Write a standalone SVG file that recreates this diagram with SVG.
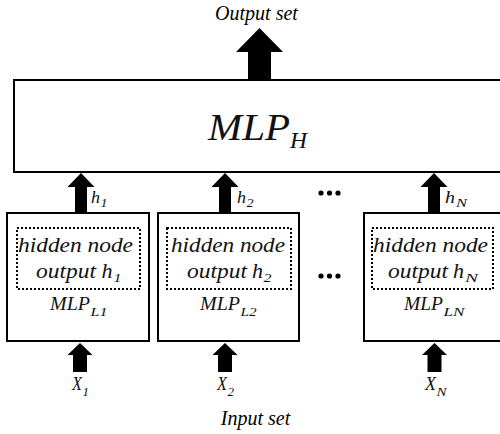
<svg xmlns="http://www.w3.org/2000/svg" width="500" height="434" viewBox="0 0 500 434">
  <defs>
    <style>
      .box { fill: #ffffff; stroke: #000000; stroke-width: 2; }
      .inner { fill: none; stroke: #000000; stroke-width: 2; stroke-dasharray: 2 2; }
      .arrow { fill: #000000; stroke: none; }
      .cap { font-family: "Liberation Serif", "Times New Roman", serif; font-style: italic; font-size: 20px; fill: #000000; }
      .math { font-family: "Liberation Serif", "Times New Roman", serif; font-style: italic; fill: #111111; }
      .body { font-size: 20px; }
      .sub { font-size: 13px; }
      .dot { fill: #000000; }
    </style>
    <!-- block arrows pointing up, tip at origin -->
    <path id="up-small" d="M0,0 L13.5,14 L6,14 L6,40 L-6,40 L-6,14 L-13.5,14 Z"/>
    <path id="up-in" d="M0,0 L12.5,12 L7,12 L7,29 L-7,29 L-7,12 L-12.5,12 Z"/>
  </defs>

  <!-- captions -->
  <text class="cap" x="256.5" y="20" text-anchor="middle">Output set</text>
  <text class="cap" x="255.5" y="425" text-anchor="middle">Input set</text>

  <!-- top network -->
  <g id="mlp-h">
    <rect class="box" x="14" y="80" width="500" height="92"/>
    <text class="math" x="208" y="140" font-size="38" textLength="82" lengthAdjust="spacingAndGlyphs">MLP</text>
    <text class="math" x="290" y="148" font-size="24" textLength="17" lengthAdjust="spacingAndGlyphs">H</text>
  </g>

  <!-- local networks -->
  <g id="mlp-l1">
    <rect class="box" x="7" y="213" width="142" height="128"/>
    <rect class="inner" x="17" y="228" width="123" height="61"/>
    <text class="math body" x="18" y="252" textLength="115" lengthAdjust="spacingAndGlyphs">hidden node</text>
    <text class="math body" x="36" y="278" textLength="60" lengthAdjust="spacingAndGlyphs">output</text>
    <text class="math body" x="101.5" y="278" textLength="11" lengthAdjust="spacingAndGlyphs">h</text>
    <text class="math sub" x="113.5" y="282" textLength="8" lengthAdjust="spacingAndGlyphs">1</text>
    <text class="math" x="50" y="310" font-size="18" textLength="40" lengthAdjust="spacingAndGlyphs">MLP</text>
    <text class="math sub" x="90.5" y="316" textLength="17" lengthAdjust="spacingAndGlyphs">L1</text>
  </g>
  <g id="mlp-l2">
    <rect class="box" x="158" y="213" width="141" height="128"/>
    <rect class="inner" x="167" y="228" width="124" height="61"/>
    <text class="math body" x="171" y="252" textLength="114" lengthAdjust="spacingAndGlyphs">hidden node</text>
    <text class="math body" x="187" y="278" textLength="60" lengthAdjust="spacingAndGlyphs">output</text>
    <text class="math body" x="252" y="278" textLength="11" lengthAdjust="spacingAndGlyphs">h</text>
    <text class="math sub" x="263.5" y="282" textLength="8" lengthAdjust="spacingAndGlyphs">2</text>
    <text class="math" x="200" y="310" font-size="18" textLength="40" lengthAdjust="spacingAndGlyphs">MLP</text>
    <text class="math sub" x="240.5" y="316" textLength="16" lengthAdjust="spacingAndGlyphs">L2</text>
  </g>
  <g id="mlp-ln">
    <rect class="box" x="364" y="213" width="150" height="128"/>
    <rect class="inner" x="372" y="228" width="121" height="61"/>
    <text class="math body" x="373" y="252" textLength="115" lengthAdjust="spacingAndGlyphs">hidden node</text>
    <text class="math body" x="388" y="278" textLength="60" lengthAdjust="spacingAndGlyphs">output</text>
    <text class="math body" x="453" y="278" textLength="11" lengthAdjust="spacingAndGlyphs">h</text>
    <text class="math sub" x="465" y="282" textLength="13" lengthAdjust="spacingAndGlyphs">N</text>
    <text class="math" x="404" y="310" font-size="18" textLength="39" lengthAdjust="spacingAndGlyphs">MLP</text>
    <text class="math sub" x="443.5" y="316" textLength="21" lengthAdjust="spacingAndGlyphs">LN</text>
  </g>

  <!-- ellipses -->
  <g id="ellipses">
    <circle class="dot" cx="321" cy="193" r="2.6"/>
    <circle class="dot" cx="329.5" cy="193" r="2.6"/>
    <circle class="dot" cx="338" cy="193" r="2.6"/>
    <circle class="dot" cx="321" cy="276" r="2.6"/>
    <circle class="dot" cx="329.5" cy="276" r="2.6"/>
    <circle class="dot" cx="338" cy="276" r="2.6"/>
  </g>

  <!-- connectors -->
  <g id="connectors">
    <!-- output arrow -->
    <path class="arrow" d="M259.5,28 L283,52 L271,52 L271,80 L248,80 L248,52 L236,52 Z"/>
    <!-- hidden outputs into MLP_H -->
    <use class="arrow" href="#up-small" x="81" y="173"/>
    <use class="arrow" href="#up-small" x="225" y="173"/>
    <use class="arrow" href="#up-small" x="434" y="173"/>
    <!-- inputs into local networks -->
    <use class="arrow" href="#up-in" x="80" y="343"/>
    <use class="arrow" href="#up-in" x="225" y="343"/>
    <use class="arrow" href="#up-in" x="434.5" y="343"/>
  </g>

  <!-- connector labels -->
  <g id="labels">
    <text class="math" x="91" y="203" font-size="17" textLength="9" lengthAdjust="spacingAndGlyphs">h</text>
    <text class="math sub" x="100.5" y="207" textLength="7" lengthAdjust="spacingAndGlyphs">1</text>
    <text class="math" x="237" y="203" font-size="17" textLength="9" lengthAdjust="spacingAndGlyphs">h</text>
    <text class="math sub" x="246.5" y="207" textLength="7" lengthAdjust="spacingAndGlyphs">2</text>
    <text class="math" x="445" y="203" font-size="17" textLength="10" lengthAdjust="spacingAndGlyphs">h</text>
    <text class="math sub" x="456" y="207" textLength="11" lengthAdjust="spacingAndGlyphs">N</text>

    <text class="math" x="72" y="390" font-size="18" textLength="10" lengthAdjust="spacingAndGlyphs">X</text>
    <text class="math sub" x="82.5" y="396" textLength="6.5" lengthAdjust="spacingAndGlyphs">1</text>
    <text class="math" x="217" y="390" font-size="18" textLength="10" lengthAdjust="spacingAndGlyphs">X</text>
    <text class="math sub" x="227.5" y="396" textLength="6.5" lengthAdjust="spacingAndGlyphs">2</text>
    <text class="math" x="425" y="390" font-size="18" textLength="11" lengthAdjust="spacingAndGlyphs">X</text>
    <text class="math sub" x="436.5" y="396" textLength="10" lengthAdjust="spacingAndGlyphs">N</text>
  </g>
</svg>
